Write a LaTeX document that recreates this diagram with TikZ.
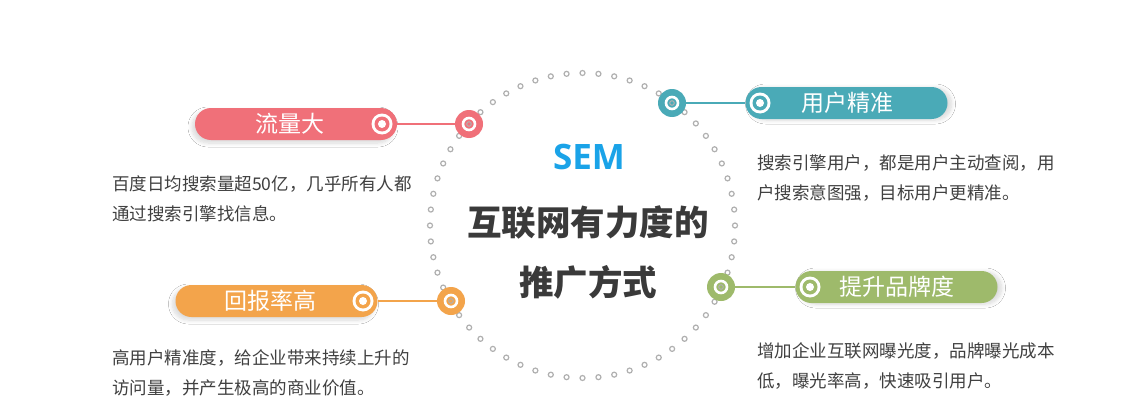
\documentclass[tikz,border=0pt]{standalone}
\usepackage{fontspec}
\newfontfamily\cjk{Noto Sans CJK SC}
\newfontfamily\opensans{Open Sans}
\usetikzlibrary{shadows.blur}
\definecolor{cred}{HTML}{F07079}
\definecolor{cteal}{HTML}{4AAAB7}
\definecolor{corange}{HTML}{F3A44B}
\definecolor{cgreen}{HTML}{9EBA6B}
\definecolor{ctext}{HTML}{404040}
\definecolor{cblue}{HTML}{1AA3E8}
\definecolor{cdot}{HTML}{B0B0B0}
\tikzset{
  pill/.style={draw=none, fill=#1, rounded corners=16pt, minimum width=202pt, minimum height=32pt, inner sep=0pt},
  pilltext/.style={text=white, font=\cjk\fontsize{23}{23}\selectfont, inner sep=0pt},
  ringdot/.style={circle, draw=cdot, line width=1.2pt, fill=white, minimum size=5pt, inner sep=0pt},
  hub/.style={circle, fill=#1, minimum size=28pt, inner sep=0pt},
  target/.style={circle, fill=white, minimum size=21pt, inner sep=0pt},
  link/.style={draw=#1, line width=1.5pt},
  body/.style={text=ctext, font=\cjk\fontsize{17.5}{30}\selectfont, align=left, inner sep=0pt, anchor=west},
  pshadowL/.style={blur shadow={shadow xshift=-3pt, shadow yshift=-3pt, shadow opacity=15, shadow blur steps=8, shadow blur radius=4pt}},
  pshadowR/.style={blur shadow={shadow xshift=4pt, shadow yshift=-1pt, shadow opacity=15, shadow blur steps=8, shadow blur radius=4pt}},
}
\newcommand{\targetin}[2]{%
  \fill[#2] (#1) circle (7.5pt);
  \fill[white] (#1) circle (4pt);
}
\newcommand{\hubin}[2]{%
  \draw[white, line width=2.6pt] (#1) circle (6pt);
  \draw[cdot, line width=1pt] (#1) circle (2.3pt);
}
\begin{document}
\begin{tikzpicture}[x=1pt, y=-1pt]
\useasboundingbox (0,0) rectangle (1148,404);
\fill[white] (0,0) rectangle (1148,404);
% dotted circle
\coordinate (C) at (582.5,225.5);
\foreach \i in {0,...,59} {
  \node[ringdot] (d\i) at ($(C)+({90+6*\i}:152.5 and -152.5)$) {};
}
% center text
\node[text=cblue, font=\opensans\bfseries\fontsize{35}{35}\selectfont, inner sep=0pt] (sem) at (589,157) {SEM};
\node[text=ctext!90!black, font=\cjk\bfseries\fontsize{34.5}{34.5}\selectfont, inner sep=0pt] (t1) at (588,222) {互联网有力度的};
\node[text=ctext!90!black, font=\cjk\bfseries\fontsize{34.5}{34.5}\selectfont, inner sep=0pt] (t2) at (588,282) {推广方式};

% red
\node[pill=cred, pshadowL] (p1) at (296,124) {};
\node[pilltext] (l1) at (290,124) {流量大};
\node[target] (g1) at (382,124) {};
\targetin{g1}{cred}
\node[hub=cred] (h1) at (469,124) {};
\draw[link=cred] (p1.east) -- (h1.west);
\hubin{h1}{cred}
\node[body] (b1) at (112,199) {百度日均搜索量超50亿，几乎所有人都\\通过搜索引擎找信息。};

% teal
\node[pill=cteal, pshadowR] (p2) at (846.5,103) {};
\node[pilltext] (l2) at (847,103) {用户精准};
\node[target] (g2) at (760,103) {};
\targetin{g2}{cteal}
\node[hub=cteal] (h2) at (672,103) {};
\draw[link=cteal] (h2.east) -- (p2.west);
\hubin{h2}{cteal}
\node[body] (b2) at (757,178.5) {搜索引擎用户，都是用户主动查阅，用\\户搜索意图强，目标用户更精准。};

% orange
\node[pill=corange, pshadowL] (p3) at (276.5,301) {};
\node[pilltext] (l3) at (270,301) {回报率高};
\node[target] (g3) at (363,301) {};
\targetin{g3}{corange}
\node[hub=corange] (h3) at (451,301) {};
\draw[link=corange] (p3.east) -- (h3.west);
\hubin{h3}{corange}
\node[body] (b3) at (112,373) {高用户精准度，给企业带来持续上升的\\访问量，并产生极高的商业价值。};

% green
\node[pill=cgreen, pshadowR] (p4) at (896.5,287) {};
\node[pilltext] (l4) at (897,287) {提升品牌度};
\node[target] (g4) at (810,287) {};
\targetin{g4}{cgreen}
\node[hub=cgreen] (h4) at (721,287) {};
\draw[link=cgreen] (h4.east) -- (p4.west);
\hubin{h4}{cgreen}
\node[body] (b4) at (757,366.5) {增加企业互联网曝光度，品牌曝光成本\\低，曝光率高，快速吸引用户。};
\end{tikzpicture}
\end{document}
